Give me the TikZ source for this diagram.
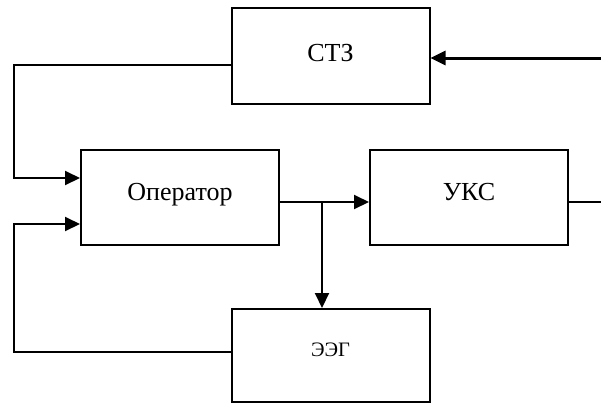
\documentclass[tikz,border=0pt]{standalone}
\usepackage{fontspec}
\setmainfont{Liberation Serif}
\usetikzlibrary{positioning,arrows.meta}
\begin{document}
\begin{tikzpicture}[x=1pt, y=-1pt, line width=2pt, node distance={89pt},
    block/.style = {draw, rectangle, minimum width=198pt, minimum height=95pt, inner sep=0pt, text height=18pt, text depth=13pt, font=\fontsize{26}{30}\selectfont},
    arr/.style = {-{Triangle[length=15pt,width=14pt]}}]
    \useasboundingbox (0,0) rectangle (601,402);
    \node[block] (op) at (180,197.5) {Оператор};
    \node[block] (uks) [right=89pt of op] {УКС};
    \node[block, minimum height=96pt, text depth=7pt] (stz) at (330.5,56) {СТЗ};
    \node[block, minimum height=93pt, text depth=16pt, font=\fontsize{20.5}{24}\selectfont] (eeg) [below=203pt of stz] {ЭЭГ};
    \coordinate (lft) at (14,0);
    \coordinate (in) at (601,58);
    \coordinate (br) at (322,202);
    \coordinate (out) at (601,202);
    \draw[arr] ([yshift=-9pt]stz.west) -- ([yshift=-9pt]stz.west -| lft) |- ([yshift=19.5pt]op.west);
    \draw[arr] ([yshift=4pt]eeg.west) -- ([yshift=4pt]eeg.west -| lft) |- ([yshift=-26.5pt]op.west);
    \draw[arr, line width=3pt] (in) -- (stz.east |- in);
    \draw[arr] ([yshift=-4.5pt]op.east) -- ([yshift=-4.5pt]uks.west);
    \draw[arr] (br) -- (br |- eeg.north);
    \draw ([yshift=-4.5pt]uks.east) -- (out);
\end{tikzpicture}
\end{document}
